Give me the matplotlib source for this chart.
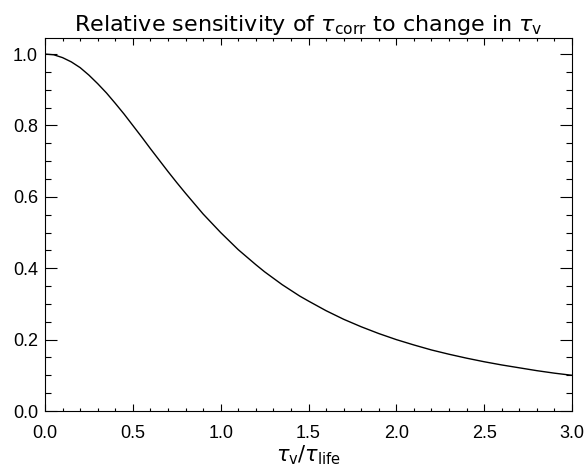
import matplotlib
matplotlib.use('Agg')
import matplotlib.pyplot as plt
from matplotlib.ticker import MultipleLocator, FormatStrFormatter

# values
ratio = [0.0, 0.05, 0.1, 0.15, 0.2, 0.25, 0.3, 0.35, 0.4, 0.45, 0.5,
         0.55, 0.6, 0.65, 0.7, 0.75, 0.8, 0.85, 0.9, 0.95, 1.0,
         1.05, 1.1, 1.15, 1.2, 1.25, 1.3, 1.35, 1.4, 1.45, 1.5,
         1.6, 1.7, 1.8, 1.9, 2.0, 2.1, 2.2, 2.3, 2.4, 2.5,
         2.6, 2.7, 2.8, 2.9, 3.0]
sensitivity = [1.000, 0.998, 0.990, 0.978, 0.962, 0.941, 0.917, 0.891, 0.862, 0.832, 0.800,
               0.768, 0.735, 0.703, 0.671, 0.640, 0.610, 0.581, 0.552, 0.526, 0.500,
               0.476, 0.452, 0.431, 0.410, 0.390, 0.372, 0.354, 0.338, 0.322, 0.308,
               0.281, 0.257, 0.236, 0.217, 0.200, 0.185, 0.171, 0.159, 0.148, 0.138,
               0.129, 0.121, 0.113, 0.106, 0.100]

plt.rcParams['font.family'] = ['Liberation Sans', 'DejaVu Sans']
plt.rcParams['mathtext.fontset'] = 'dejavusans'

fig = plt.figure(figsize=(5.86, 4.66), dpi=100)
ax = fig.add_axes([45/586, 1 - 411/466, (572-45)/586, (411-38)/466])
ax.plot(ratio, sensitivity, color='black', lw=1.0)

ax.set_xlim(0, 3)
ax.set_ylim(0, 1.045)
ax.xaxis.set_major_locator(MultipleLocator(0.5))
ax.xaxis.set_minor_locator(MultipleLocator(0.1))
ax.yaxis.set_major_locator(MultipleLocator(0.2))
ax.yaxis.set_minor_locator(MultipleLocator(0.05))
ax.xaxis.set_major_formatter(FormatStrFormatter('%.1f'))
ax.yaxis.set_major_formatter(FormatStrFormatter('%.1f'))
ax.tick_params(which='both', direction='in', top=True, right=True, labelsize=13, width=0.8)
ax.tick_params(axis='x', which='major', length=5, pad=10)
ax.tick_params(axis='x', which='minor', length=2.5)
ax.tick_params(axis='y', which='major', length=8.5, pad=5)
ax.tick_params(axis='y', which='minor', length=4.3)
for s in ax.spines.values():
    s.set_linewidth(0.8)

ax.set_title(r'Relative sensitivity of $\tau_{\mathrm{corr}}$ to change in $\tau_{\mathrm{v}}$',
             fontsize=16, pad=5, family='DejaVu Sans')
ax.set_xlabel(r'$\tau_{\mathrm{v}}/\tau_{\mathrm{life}}$', fontsize=15, labelpad=1)

fig.savefig('out.png', dpi=100)
